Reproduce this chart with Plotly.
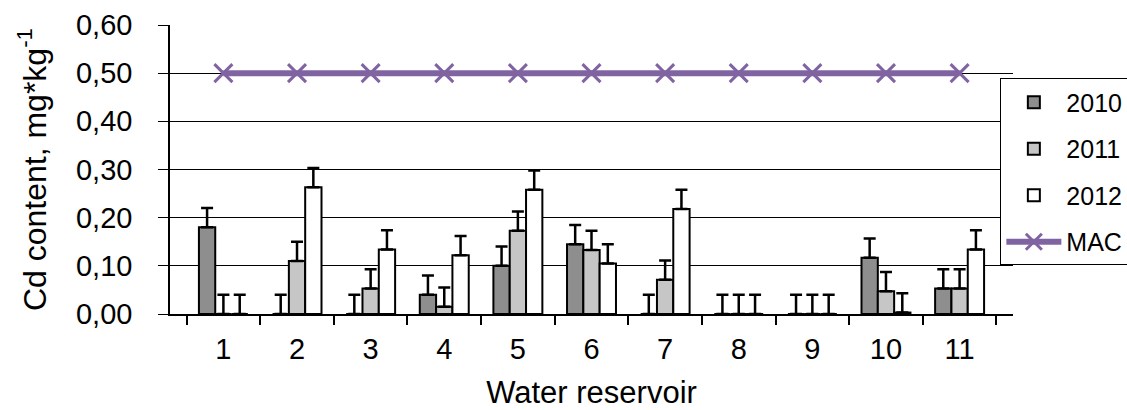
import plotly.graph_objects as go

categories = ["1", "2", "3", "4", "5", "6", "7", "8", "9", "10", "11"]
cd_2010 = [0.18, 0.00, 0.00, 0.04, 0.10, 0.145, 0.00, 0.00, 0.00, 0.117, 0.053]
cd_2011 = [0.00, 0.11, 0.053, 0.015, 0.173, 0.133, 0.071, 0.00, 0.00, 0.047, 0.053]
cd_2012 = [0.00, 0.263, 0.134, 0.122, 0.258, 0.105, 0.218, 0.00, 0.00, 0.003, 0.134]
err_2010 = [0.04] * 11
err_2011 = [0.04] * 11
err_2012 = [0.04] * 11
mac = [0.5] * 11

FONT = "Liberation Sans, Arial, sans-serif"

fig = go.Figure()

series = [
    ("2010", cd_2010, err_2010, "#8e8e8e"),
    ("2011", cd_2011, err_2011, "#c6c6c6"),
    ("2012", cd_2012, err_2012, "#ffffff"),
]
for name, vals, errs, col in series:
    fig.add_trace(go.Bar(
        x=categories, y=vals, name=name, legendgroup=name,
        marker=dict(color=col, line=dict(color="black", width=2)),
        error_y=dict(type="data", symmetric=False, array=errs,
                     arrayminus=[0] * len(errs), color="black",
                     thickness=2.5, width=6),
    ))

fig.add_trace(go.Scatter(
    x=categories, y=mac, name="MAC", legendgroup="MAC", mode="lines+markers",
    line=dict(color="#8064A2", width=6),
    marker=dict(symbol="x-thin", size=18, color="#8064A2",
                line=dict(color="#8064A2", width=3)),
))

fig.update_layout(
    width=1127, height=410,
    margin=dict(l=170, r=114, t=25, b=96, autoexpand=False),
    paper_bgcolor="white", plot_bgcolor="white",
    barmode="group", bargap=0.335, bargroupgap=0,
    separators=",.",
    font=dict(family=FONT, size=26, color="black"),
    showlegend=True,
    legend=dict(
        x=0.985, y=0.815, xanchor="left", yanchor="top",
        bgcolor="white", bordercolor="black", borderwidth=1,
        font=dict(size=25, family=FONT), tracegroupgap=11,
        traceorder="grouped", itemwidth=55,
    ),
    xaxis=dict(
        type="category", showgrid=False, showline=True, linecolor="black",
        linewidth=1.5, ticks="outside", tickson="boundaries", ticklen=9,
        tickcolor="black", tickwidth=1.5, automargin=False,
        ticklabelstandoff=8,
        tickfont=dict(size=29, family=FONT),
        title=dict(text="Water reservoir", font=dict(size=31, family=FONT),
                   standoff=27),
    ),
    yaxis=dict(
        range=[0, 0.6], dtick=0.1, tickformat=".2f",
        showgrid=True, gridcolor="black", gridwidth=1,
        showline=True, linecolor="black", linewidth=1.5,
        ticks="outside", ticklen=10, tickcolor="black", tickwidth=1,
        ticklabelstandoff=20, automargin=False,
        tickfont=dict(size=29, family=FONT),
        zeroline=False,
        title=dict(text="Cd content, mg*kg<sup>-1</sup>",
                   font=dict(size=32, family=FONT), standoff=20),
    ),
)

fig.write_html("out.html", config={"displayModeBar": False},
               post_script="document.body.style.margin='0';document.body.style.overflow='hidden';")
